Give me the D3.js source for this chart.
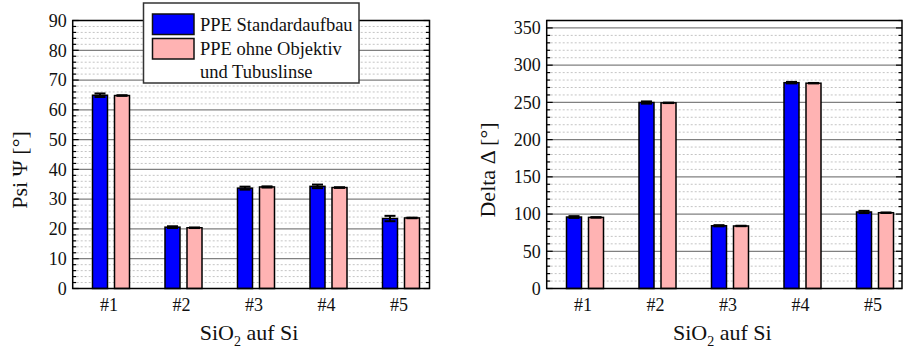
<!DOCTYPE html>
<html>
<head>
<meta charset="utf-8">
<script src="https://cdn.jsdelivr.net/npm/d3@7"></script>
<style>
  body { margin: 0; background: #fff; }
</style>
</head>
<body>
<script>
const categories = ["#1", "#2", "#3", "#4", "#5"];
const series = ["PPE Standardaufbau", "PPE ohne Objektiv und Tubuslinse"];
const colors = ["#0000ff", "#ffb3b3"];

// Psi values, both setups
const psiStandard = [64.9, 20.6, 33.7, 34.3, 23.5];
const psiStandardErr = [0.6, 0.3, 0.5, 0.6, 0.9];
const psiOhne = [64.8, 20.4, 34.1, 33.9, 23.7];
const psiOhneErr = [0.1, 0.1, 0.2, 0.1, 0.1];

// Delta values, both setups
const deltaStandard = [96.0, 249.8, 84.3, 276.5, 102.8];
const deltaStandardErr = [1.2, 1.5, 0.8, 1.0, 1.5];
const deltaOhne = [95.5, 249.4, 84.0, 275.8, 101.8];
const deltaOhneErr = [0.3, 0.3, 0.3, 0.3, 0.3];

const psiTicks = [0, 10, 20, 30, 40, 50, 60, 70, 80, 90];
const deltaTicks = [0, 50, 100, 150, 200, 250, 300, 350];

const width = 903, height = 349;
const svg = d3.select("body").append("svg")
  .attr("width", width).attr("height", height)
  .attr("font-family", "'Liberation Serif', 'Times New Roman', Times, 'DejaVu Serif', serif")
  .style("font-family", "'Liberation Serif', 'Times New Roman', Times, 'DejaVu Serif', serif");

function drawPanel(opt) {
  const g = svg.append("g");
  // evenly spaced bar pairs
  const x = d3.scalePoint().domain(categories)
    .range([opt.left + 38.3, opt.left + 38.3 + 4 * 72.5]);
  const xs = d3.scaleBand().domain([0, 1]).range([-18.5, 18.5]).paddingInner(0.318);
  const y = d3.scaleLinear().domain(opt.domain).range([opt.bottom, opt.top]);

  // minor grid
  const minor = d3.range(opt.domain[0], opt.domain[1] + 0.001, opt.minorStep)
    .filter(v => opt.ticks.indexOf(v) < 0 && v < opt.domain[1]);
  g.selectAll(".minor").data(minor).enter().append("line")
    .attr("x1", opt.left).attr("x2", opt.right)
    .attr("y1", d => y(d)).attr("y2", d => y(d))
    .attr("stroke", "#c4c4c4").attr("stroke-width", 1)
    .attr("stroke-dasharray", "2,2");
  // major grid
  g.selectAll(".major").data(opt.ticks.filter(v => v > 0 && v < opt.domain[1])).enter().append("line")
    .attr("x1", opt.left).attr("x2", opt.right)
    .attr("y1", d => y(d)).attr("y2", d => y(d))
    .attr("stroke", "#808080").attr("stroke-width", 1.3);

  // bars
  const sets = [[opt.a, opt.aErr], [opt.b, opt.bErr]];
  sets.forEach((s, si) => {
    const vals = s[0], errs = s[1];
    g.selectAll(".bar" + si).data(categories).enter().append("rect")
      .attr("x", (d, i) => x(d) + xs(si))
      .attr("y", (d, i) => y(vals[i]))
      .attr("width", xs.bandwidth())
      .attr("height", (d, i) => y(0) - y(vals[i]))
      .attr("fill", colors[si]).attr("stroke", "#000").attr("stroke-width", 1.5);
    // error bars
    categories.forEach((c, i) => {
      const cx = x(c) + xs(si) + xs.bandwidth() / 2;
      const y1 = y(vals[i] + errs[i]), y2 = y(vals[i] - errs[i]);
      g.append("line").attr("x1", cx).attr("x2", cx).attr("y1", y1).attr("y2", y2)
        .attr("stroke", "#000").attr("stroke-width", 2);
      [y1, y2].forEach(yy => g.append("line")
        .attr("x1", cx - 5.5).attr("x2", cx + 5.5).attr("y1", yy).attr("y2", yy)
        .attr("stroke", "#000").attr("stroke-width", 2));
    });
  });

  // ticks, inward on both sides
  const allMinor = d3.range(opt.domain[0], opt.domain[1] + 0.001, opt.minorStep);
  [opt.left, opt.right].forEach((ax, k) => {
    const dir = k === 0 ? 1 : -1;
    g.selectAll(".mt" + k).data(allMinor).enter().append("line")
      .attr("x1", ax).attr("x2", d => ax + dir * (opt.ticks.indexOf(d) >= 0 ? 6 : 3.5))
      .attr("y1", d => y(d)).attr("y2", d => y(d))
      .attr("stroke", "#000").attr("stroke-width", 1.2);
  });

  // frame
  g.append("rect").attr("x", opt.left).attr("y", opt.top)
    .attr("width", opt.right - opt.left).attr("height", opt.bottom - opt.top)
    .attr("fill", "none").attr("stroke", "#000").attr("stroke-width", 1.5);

  // y tick labels
  g.selectAll(".yl").data(opt.ticks).enter().append("text")
    .attr("x", opt.left - 6).attr("y", d => y(d)).attr("dy", "0.35em")
    .attr("text-anchor", "end").attr("font-size", 18).attr("fill", "#111").text(d => d);

  // category labels
  g.selectAll(".xl").data(categories).enter().append("text")
    .attr("x", d => x(d) - 2).attr("y", opt.bottom + 22)
    .attr("text-anchor", "middle").attr("font-size", 18).attr("fill", "#111").text(d => d);

  // x title
  const xt = g.append("text").attr("x", (opt.left + opt.right) / 2 - 2).attr("y", 340)
    .attr("text-anchor", "middle").attr("font-size", 22).attr("fill", "#111");
  xt.append("tspan").text("SiO");
  xt.append("tspan").attr("font-size", 14).attr("dy", 6).text("2");
  xt.append("tspan").attr("dy", -6).text(" auf Si");

  // y title
  g.append("text")
    .attr("transform", `translate(${opt.titleX},170) rotate(-90)`)
    .attr("dy", "0.35em").attr("text-anchor", "middle").attr("font-size", 22)
    .attr("fill", "#111").text(opt.title);
}

drawPanel({
  left: 72.7, right: 429.5, top: 20.5, bottom: 288.5,
  domain: [0, 90], ticks: psiTicks, minorStep: 2,
  a: psiStandard, aErr: psiStandardErr, b: psiOhne, bErr: psiOhneErr,
  title: "Psi \u03A8 [\u00B0]", titleX: 19
});
drawPanel({
  left: 546.7, right: 902, top: 20.5, bottom: 288.5,
  domain: [0, 360], ticks: deltaTicks, minorStep: 10,
  a: deltaStandard, aErr: deltaStandardErr, b: deltaOhne, bErr: deltaOhneErr,
  title: "Delta \u0394 [\u00B0]", titleX: 487
});

// legend
const lg = svg.append("g");
lg.append("rect").attr("x", 143.5).attr("y", 3).attr("width", 215.5).attr("height", 80)
  .attr("fill", "#fff").attr("stroke", "#333").attr("stroke-width", 1.5);
const legendRows = [series[0], "PPE ohne Objektiv"];
lg.selectAll(".sw").data(legendRows).enter().append("rect")
  .attr("x", 152.5).attr("y", (d, i) => 14 + i * 24.5)
  .attr("width", 41.5).attr("height", 20.5)
  .attr("fill", (d, i) => colors[i]).attr("stroke", "#111").attr("stroke-width", 1.5);
lg.selectAll(".lt").data(legendRows.concat(["und Tubuslinse"])).enter().append("text")
  .attr("x", 200).attr("y", (d, i) => 31 + i * 23.5)
  .attr("font-size", 18.5).attr("fill", "#111").text(d => d);
</script>
</body>
</html>
